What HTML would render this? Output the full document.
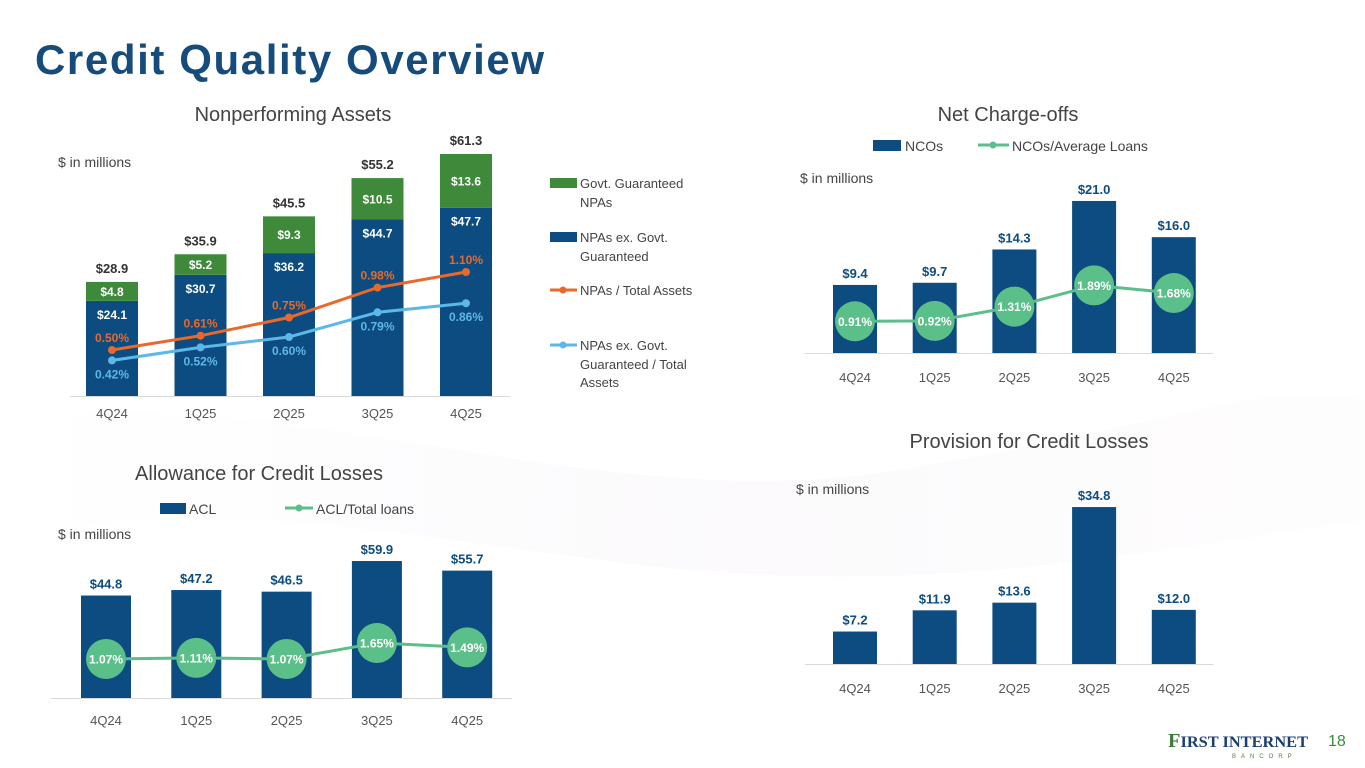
<!DOCTYPE html>
<html><head><meta charset="utf-8"><style>
html,body{margin:0;padding:0;background:#fff;}
body{width:1365px;height:768px;overflow:hidden;font-family:"Liberation Sans",sans-serif;position:relative;}
svg{position:absolute;left:0;top:0;}
</style></head><body>
<svg id="s" width="1365" height="768" viewBox="0 0 1365 768" font-family="Liberation Sans, sans-serif">
<defs><linearGradient id="bg" x1="0" y1="0" x2="1" y2="0"><stop offset="0" stop-color="#f1eef5" stop-opacity="0"/><stop offset="0.5" stop-color="#ece6f0" stop-opacity="0.8"/><stop offset="1" stop-color="#f3e8ef" stop-opacity="0.3"/></linearGradient></defs>
<path d="M0 420 C300 380 600 520 900 470 S1250 380 1365 400 L1365 520 C1100 560 900 600 600 560 S200 500 0 540 Z" fill="url(#bg)" opacity="0.25"/>
<text x="35" y="74" font-size="42" font-weight="bold" letter-spacing="1.6" fill="#154c7c">Credit Quality Overview</text>
<text x="293" y="121" font-size="20" fill="#444" text-anchor="middle">Nonperforming Assets</text>
<text x="1008" y="121" font-size="20" fill="#444" text-anchor="middle">Net Charge-offs</text>
<text x="259" y="480" font-size="20" fill="#444" text-anchor="middle">Allowance for Credit Losses</text>
<text x="1029" y="448" font-size="20" fill="#444" text-anchor="middle">Provision for Credit Losses</text>
<text x="58" y="167" font-size="14" fill="#444">$ in millions</text>
<text x="800" y="183" font-size="14" fill="#444">$ in millions</text>
<text x="58" y="539" font-size="14" fill="#444">$ in millions</text>
<text x="796" y="494" font-size="14" fill="#444">$ in millions</text>
<g id="npa"></g>
<g id="nco"></g>
<g id="acl"></g>
<g id="prov"></g>
<g font-size="13" fill="#444">
<rect x="550" y="178" width="27" height="10" fill="#3f8a3a"/>
<text x="580" y="188">Govt. Guaranteed</text><text x="580" y="207">NPAs</text>
<rect x="550" y="232" width="27" height="10" fill="#0d4c80"/>
<text x="580" y="242">NPAs ex. Govt.</text><text x="580" y="261">Guaranteed</text>
<line x1="550" y1="290" x2="577" y2="290" stroke="#e9692c" stroke-width="3"/><circle cx="563" cy="290" r="3.5" fill="#e9692c"/>
<text x="580" y="295">NPAs / Total Assets</text>
<line x1="550" y1="345" x2="577" y2="345" stroke="#5bb8e8" stroke-width="3"/><circle cx="563" cy="345" r="3.5" fill="#5bb8e8"/>
<text x="580" y="350">NPAs ex. Govt.</text><text x="580" y="369">Guaranteed / Total</text><text x="580" y="387">Assets</text>
</g>
<g font-size="14" fill="#444">
<rect x="873" y="140" width="28" height="11" fill="#0d4c80"/><text x="905" y="151">NCOs</text>
<line x1="978" y1="145" x2="1009" y2="145" stroke="#5bbf8a" stroke-width="3"/><circle cx="993" cy="145" r="3.5" fill="#5bbf8a"/>
<text x="1012" y="151">NCOs/Average Loans</text>
</g>
<g font-size="14" fill="#444">
<rect x="160" y="503" width="26" height="11" fill="#0d4c80"/><text x="189" y="514">ACL</text>
<line x1="285" y1="508" x2="313" y2="508" stroke="#5bbf8a" stroke-width="3"/><circle cx="299" cy="508" r="3.5" fill="#5bbf8a"/>
<text x="316" y="514">ACL/Total loans</text>
</g>
<g>
<text x="1168" y="747" font-family="Liberation Serif, serif" font-size="16" font-weight="bold" fill="#1b3f70" textLength="140" lengthAdjust="spacingAndGlyphs"><tspan fill="#3f7a3a" font-size="20">F</tspan>IRST INTERNET</text>
<text x="1232" y="758" font-size="6" letter-spacing="5" fill="#5a7a4a">BANCORP</text>
</g>
<text x="1328" y="746" font-size="16" fill="#3f8a3a">18</text>
</svg>
<script>
var cats = ["4Q24","1Q25","2Q25","3Q25","4Q25"];
var npaEx = [24.1,30.7,36.2,44.7,47.7];
var npaGovt = [4.8,5.2,9.3,10.5,13.6];
var npaTotal = ["$28.9","$35.9","$45.5","$55.2","$61.3"];
var npaRatio = [0.50,0.61,0.75,0.98,1.10];
var npaExRatio = [0.42,0.52,0.60,0.79,0.86];
var ncoVals = [9.4,9.7,14.3,21.0,16.0];
var ncoRatio = [0.91,0.92,1.31,1.89,1.68];
var aclVals = [44.8,47.2,46.5,59.9,55.7];
var aclRatio = [1.07,1.11,1.07,1.65,1.49];
var provVals = [7.2,11.9,13.6,34.8,12.0];

var NS="http://www.w3.org/2000/svg";
function mk(p,t,a,txt){var e=document.createElementNS(NS,t);for(var k in a)e.setAttribute(k,a[k]);if(txt!==undefined)e.textContent=txt;p.appendChild(e);return e;}
function xs(x0,step){return function(i){return x0+i*step;};}
function ys(base,pp){return function(v){return base-v*pp;};}

(function(){
var g=document.getElementById('npa');var x=xs(112,88.5),y=ys(396,3.948),yr=ys(415,130),w=52;
mk(g,'line',{x1:70,y1:396.5,x2:510,y2:396.5,stroke:'#d9d9d9'});
for(var i=0;i<cats.length;i++){
var b=mk(g,'rect',{x:x(i)-w/2,y:y(npaEx[i]),width:w,height:396-y(npaEx[i]),fill:'#0d4c80'});


var t=npaEx[i]+npaGovt[i];
var gb=mk(g,'rect',{x:x(i)-w/2,y:y(t),width:w,height:y(npaEx[i])-y(t),fill:'#3f8a3a'});


mk(g,'text',{x:x(i),y:(y(t)+y(npaEx[i]))/2+4.5,'font-size':12,'font-weight':'bold',fill:'#fff','text-anchor':'middle'},'$'+npaGovt[i].toFixed(1));
mk(g,'text',{x:x(i),y:y(npaEx[i])+18,'font-size':12,'font-weight':'bold',fill:'#fff','text-anchor':'middle'},'$'+npaEx[i].toFixed(1));
mk(g,'text',{x:x(i),y:y(t)-9,'font-size':13,'font-weight':'bold',fill:'#333','text-anchor':'middle'},npaTotal[i]);
mk(g,'text',{x:x(i),y:418,'font-size':13,fill:'#555','text-anchor':'middle'},cats[i]);
}
function line(arr,col,name,off){var d='';for(var i=0;i<arr.length;i++)d+=(i?'L':'M')+x(i)+' '+yr(arr[i]);
var p=mk(g,'path',{d:d,fill:'none',stroke:col,'stroke-width':3});


for(var i=0;i<arr.length;i++){mk(g,'circle',{cx:x(i),cy:yr(arr[i]),r:4,fill:col});
mk(g,'text',{x:x(i),y:yr(arr[i])+off,'font-size':12,'font-weight':'bold',fill:col,'text-anchor':'middle'},arr[i].toFixed(2)+'%');}}
line(npaRatio,'#e9692c','npa-ratio-line',-8);
line(npaExRatio,'#5bb8e8','npa-ex-ratio-line',18);
})();

function barLine(id,vals,ratio,x0,step,base,pp,rbase,rpp,w,labY,prefix){
var g=document.getElementById(id);var x=xs(x0,step),y=ys(base,pp);
mk(g,'line',{x1:x0-step/2-10,y1:base+0.5,x2:x0+step*4.5,y2:base+0.5,stroke:'#d9d9d9'});
for(var i=0;i<vals.length;i++){
var b=mk(g,'rect',{x:x(i)-w/2,y:y(vals[i]),width:w,height:base-y(vals[i]),fill:'#0d4c80'});


mk(g,'text',{x:x(i),y:y(vals[i])-7,'font-size':13,'font-weight':'bold',fill:'#0d4c80','text-anchor':'middle'},'$'+vals[i].toFixed(1));
mk(g,'text',{x:x(i),y:labY,'font-size':13,fill:'#555','text-anchor':'middle'},cats[i]);
}
if(ratio){var yr=ys(rbase,rpp);var d='';
for(var i=0;i<ratio.length;i++)d+=(i?'L':'M')+x(i)+' '+yr(ratio[i]);
var p=mk(g,'path',{d:d,fill:'none',stroke:'#5bbf8a','stroke-width':3});


for(var i=0;i<ratio.length;i++){
var c=mk(g,'circle',{cx:x(i),cy:yr(ratio[i]),r:20,fill:'#5bbf8a'});


mk(g,'text',{x:x(i),y:yr(ratio[i])+4.5,'font-size':12,'font-weight':'bold',fill:'#fff','text-anchor':'middle'},ratio[i].toFixed(2)+'%');}}
}
barLine('nco',ncoVals,ncoRatio,855,79.7,353,7.24,354.7,36.7,44,382,'nco');
barLine('acl',aclVals,aclRatio,106,90.3,698,2.287,688.5,27.6,50,725,'acl');
barLine('prov',provVals,null,855,79.7,664,4.51,0,0,44,693,'provision');
</script>
</body></html>
